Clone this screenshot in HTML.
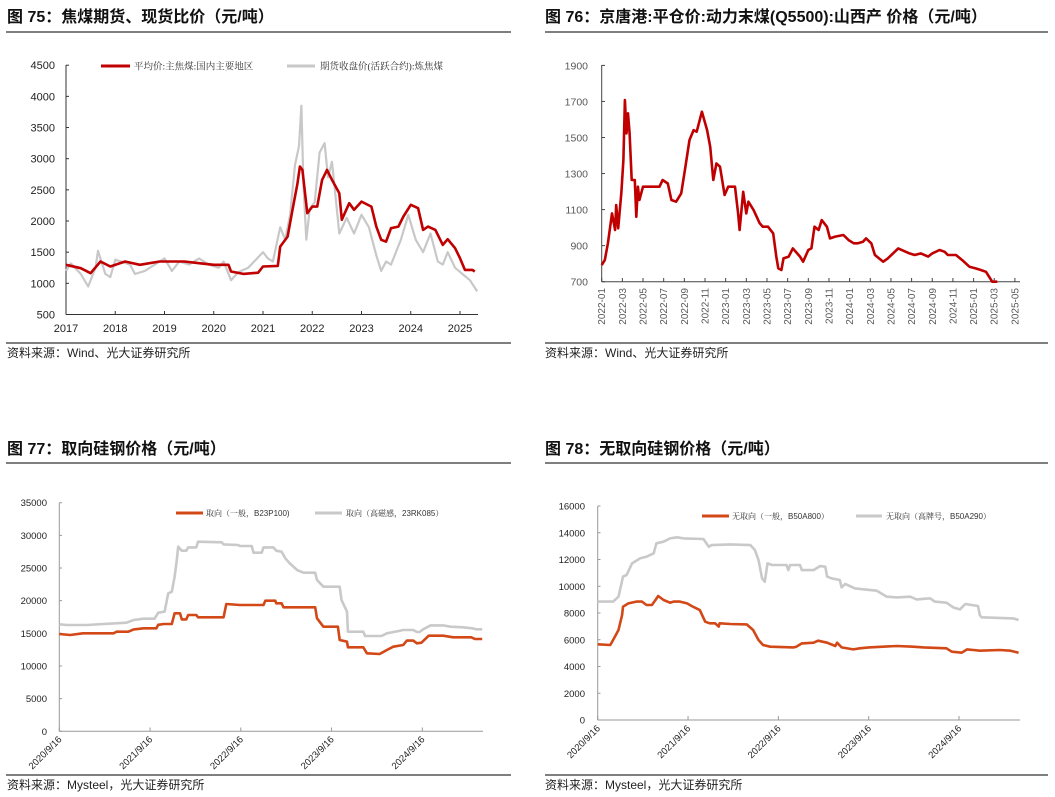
<!DOCTYPE html>
<html><head><meta charset="utf-8"><style>
body{margin:0;width:1055px;height:797px;background:#fff;overflow:hidden;font-family:"Liberation Sans","Noto Sans CJK SC",sans-serif}
svg{position:absolute;left:0;top:0}
</style></head><body>
<svg id="s" width="1055" height="797" xmlns="http://www.w3.org/2000/svg">
<g font-family="Liberation Sans, Noto Sans CJK SC, sans-serif" font-weight="bold" font-size="16" fill="#111">
<text x="7" y="22">图 75：焦煤期货、现货比价（元/吨）</text>
<text x="545" y="22">图 76：京唐港:平仓价:动力末煤(Q5500):山西产 价格（元/吨）</text>
<text x="7" y="454">图 77：取向硅钢价格（元/吨）</text>
<text x="545" y="454">图 78：无取向硅钢价格（元/吨）</text>
</g>
<g stroke="#333" stroke-width="1.3">
<line x1="6" y1="32" x2="511" y2="32"/>
<line x1="545" y1="32" x2="1048" y2="32"/>
<line x1="6" y1="343" x2="511" y2="343"/>
<line x1="545" y1="343" x2="1048" y2="343"/>
<line x1="6" y1="463" x2="511" y2="463"/>
<line x1="545" y1="463" x2="1048" y2="463"/>
<line x1="6" y1="775" x2="511" y2="775"/>
<line x1="545" y1="775" x2="1048" y2="775"/>
</g>
<g font-size="12" fill="#222">
<text x="7" y="357">资料来源：Wind、光大证券研究所</text>
<text x="545" y="357">资料来源：Wind、光大证券研究所</text>
<text x="7" y="789">资料来源：Mysteel，光大证券研究所</text>
<text x="545" y="789">资料来源：Mysteel，光大证券研究所</text>
</g>
<g font-size="9.5" font-family="Liberation Serif, Noto Serif CJK SC, serif" fill="#333">
<line x1="101" y1="66" x2="130" y2="66" stroke="#C00000" stroke-width="3"/>
<text x="134" y="69.5">平均价:主焦煤:国内主要地区</text>
<line x1="287" y1="66" x2="315" y2="66" stroke="#C8C8C8" stroke-width="3"/>
<text x="320" y="69.5">期货收盘价(活跃合约):炼焦煤</text>
</g>
<g font-size="8" font-family="Liberation Sans, Noto Serif CJK SC, sans-serif" fill="#333">
<line x1="176" y1="513" x2="203" y2="513" stroke="#D34817" stroke-width="3"/>
<text x="206" y="516">取向（一般，B23P100)</text>
<line x1="315" y1="513" x2="342" y2="513" stroke="#C9C9C9" stroke-width="3"/>
<text x="346" y="516">取向（高磁感，23RK085）</text>
<line x1="702" y1="516" x2="729" y2="516" stroke="#D34817" stroke-width="3"/>
<text x="732" y="519">无取向（一般，B50A800）</text>
<line x1="856" y1="516" x2="882" y2="516" stroke="#C9C9C9" stroke-width="3"/>
<text x="886" y="519">无取向（高牌号，B50A290）</text>
</g>
</svg>
<script>
// ---- Chart 75 data ----
const c1RedT=[2017.0,2017.3,2017.5,2017.7,2017.9,2018.2,2018.5,2018.9,2019.4,2019.7,2020.0,2020.3,2020.35,2020.6,2020.9,2021.0,2021.3,2021.35,2021.5,2021.6,2021.7,2021.75,2021.8,2021.9,2022.0,2022.1,2022.2,2022.3,2022.4,2022.55,2022.6,2022.75,2022.85,2023.0,2023.2,2023.3,2023.4,2023.5,2023.6,2023.75,2023.85,2024.0,2024.15,2024.25,2024.35,2024.5,2024.65,2024.75,2024.9,2025.0,2025.1,2025.25,2025.3];
const c1RedV=[1297,1243,1163,1350,1270,1350,1297,1350,1350,1323,1297,1297,1190,1152,1170,1270,1280,1590,1750,2180,2607,2874,2820,2125,2232,2232,2660,2820,2660,2446,2019,2286,2180,2312,2232,1911,1698,1670,1885,1911,2072,2260,2206,1858,1911,1858,1617,1708,1563,1403,1216,1216,1190];
const c1GreyT=[2017.0,2017.1,2017.3,2017.45,2017.6,2017.65,2017.8,2017.9,2018.0,2018.3,2018.4,2018.6,2018.9,2019.0,2019.15,2019.3,2019.5,2019.7,2019.9,2020.1,2020.2,2020.35,2020.5,2020.7,2021.0,2021.1,2021.2,2021.35,2021.45,2021.55,2021.65,2021.73,2021.78,2021.82,2021.88,2021.95,2022.05,2022.15,2022.25,2022.32,2022.4,2022.55,2022.7,2022.85,2023.0,2023.15,2023.3,2023.4,2023.5,2023.6,2023.8,2023.95,2024.1,2024.25,2024.4,2024.55,2024.65,2024.75,2024.9,2025.05,2025.2,2025.35];
const c1GreyV=[1200,1320,1150,950,1250,1520,1150,1100,1380,1300,1150,1200,1350,1400,1200,1350,1300,1400,1300,1250,1350,1050,1180,1250,1500,1400,1350,1900,1700,2100,2900,3200,3850,2600,1700,2200,2300,3100,3250,2700,2950,1800,2050,1800,2100,1900,1450,1200,1350,1300,1700,2100,1700,1500,1800,1350,1300,1500,1250,1150,1050,870];
const c1YTicks=[500,1000,1500,2000,2500,3000,3500,4000,4500];
const c1XTicks=[2017,2018,2019,2020,2021,2022,2023,2024,2025];
// ---- Chart 76 data (month index from 2022-01) ----
const c2M=[0,0.3,0.6,1.0,1.3,1.4,1.6,1.9,2.1,2.25,2.4,2.55,2.7,2.9,3.2,3.35,3.5,3.65,4.0,5.6,5.9,6.4,6.75,7.2,7.7,8.05,8.5,8.9,9.2,9.7,10.2,10.5,10.8,11.1,11.45,11.9,12.25,12.9,13.2,13.35,13.7,14.0,14.2,14.7,15.3,15.6,16.1,16.6,16.9,17.1,17.4,17.6,18.1,18.5,19.2,19.5,20.0,20.3,20.6,21.0,21.3,21.8,22.1,22.6,23.4,23.9,24.4,24.8,25.3,25.6,26.1,26.45,27.25,27.7,28.2,28.7,29.8,30.3,30.9,31.6,32.0,32.7,33.2,33.5,34.3,34.9,35.6,36.2,36.7,37.2,37.8,38.3];
const c2V=[792,820,913,1079,987,1125,996,1190,1375,1708,1523,1634,1523,1264,1264,1060,1227,1153,1227,1227,1264,1245,1153,1144,1190,1319,1486,1541,1532,1643,1541,1449,1264,1356,1338,1181,1227,1227,1079,987,1199,1079,1144,1097,1024,1005,1005,968,839,774,765,829,839,885,839,811,876,885,1005,987,1042,1005,940,950,959,931,913,913,922,940,913,848,811,829,857,885,857,848,857,839,857,876,866,848,848,820,783,774,765,755,700,700];
const c2YTicks=[700,900,1100,1300,1500,1700,1900];
const c2XLabels=["2022-01","2022-03","2022-05","2022-07","2022-09","2022-11","2023-01","2023-03","2023-05","2023-07","2023-09","2023-11","2024-01","2024-03","2024-05","2024-07","2024-09","2024-11","2025-01","2025-03","2025-05"];
// ---- Chart 77 data ----
const c3RedT=[2020.71,2020.83,2020.97,2021.31,2021.34,2021.47,2021.53,2021.64,2021.78,2021.80,2021.86,2021.95,2021.98,2022.04,2022.06,2022.11,2022.13,2022.22,2022.24,2022.52,2022.55,2022.70,2022.96,2022.98,2023.09,2023.10,2023.16,2023.18,2023.53,2023.55,2023.62,2023.78,2023.80,2023.88,2023.89,2024.06,2024.10,2024.24,2024.32,2024.39,2024.50,2024.54,2024.61,2024.65,2024.70,2024.78,2024.94,2025.05,2025.25,2025.29,2025.37];
const c3RedV=[14900,14750,15000,15000,15250,15250,15600,15770,15770,16300,16430,16430,18060,18060,17140,17140,17800,17800,17450,17450,19490,19340,19340,20000,20000,19600,19600,18980,18980,17300,16020,16020,13980,13720,12860,12860,11940,11840,12450,12960,13210,13880,13880,13470,13570,14640,14640,14390,14390,14130,14130];
const c3GreyT=[2020.71,2020.79,2021.01,2021.45,2021.53,2021.64,2021.76,2021.80,2021.87,2021.91,2021.95,2021.98,2022.00,2022.02,2022.06,2022.11,2022.13,2022.22,2022.24,2022.50,2022.52,2022.68,2022.70,2022.83,2022.85,2022.94,2022.96,2023.07,2023.10,2023.16,2023.20,2023.25,2023.33,2023.40,2023.53,2023.55,2023.62,2023.80,2023.82,2023.88,2023.89,2024.06,2024.08,2024.26,2024.32,2024.45,2024.50,2024.61,2024.65,2024.68,2024.72,2024.80,2024.94,2025.02,2025.16,2025.27,2025.30,2025.37];
const c3GreyV=[16380,16280,16280,16630,17040,17240,17240,18160,18320,21120,21380,23670,25710,28270,27650,27650,28160,28160,29030,28930,28620,28520,28370,28370,27350,27350,28160,28160,27650,27500,26480,25710,24690,24290,24290,23160,22140,22140,20100,18320,15250,15250,14590,14590,15000,15360,15510,15510,15200,15200,15610,16220,16220,16020,15920,15760,15610,15610];
const c3YTicks=[0,5000,10000,15000,20000,25000,30000,35000];
const c3XLabels=["2020/9/16","2021/9/16","2022/9/16","2023/9/16","2024/9/16"];
// ---- Chart 78 data ----
const c4RedT=[2020.71,2020.85,2020.88,2020.94,2020.98,2020.99,2021.05,2021.14,2021.20,2021.25,2021.31,2021.35,2021.38,2021.44,2021.51,2021.55,2021.62,2021.70,2021.75,2021.84,2021.90,2021.95,2022.01,2022.05,2022.06,2022.18,2022.36,2022.43,2022.49,2022.54,2022.62,2022.88,2022.91,2022.97,2023.10,2023.15,2023.25,2023.34,2023.36,2023.41,2023.54,2023.61,2023.71,2024.02,2024.20,2024.32,2024.57,2024.63,2024.74,2024.80,2024.87,2024.94,2025.16,2025.28,2025.37];
const c4RedV=[5660,5610,5980,6730,7850,8470,8720,8850,8850,8600,8600,8970,9270,8970,8770,8850,8850,8720,8520,8220,7350,7230,7230,6980,7230,7180,7150,6730,5980,5610,5480,5430,5480,5730,5780,5930,5780,5530,5780,5430,5280,5360,5430,5530,5480,5430,5360,5110,5030,5280,5230,5180,5230,5180,5030];
const c4GreyT=[2020.71,2020.88,2020.94,2020.99,2021.03,2021.09,2021.18,2021.25,2021.33,2021.36,2021.44,2021.51,2021.59,2021.66,2021.88,2021.94,2021.97,2022.18,2022.40,2022.45,2022.49,2022.53,2022.56,2022.59,2022.64,2022.80,2022.82,2022.84,2022.95,2022.97,2023.10,2023.17,2023.23,2023.25,2023.30,2023.39,2023.41,2023.45,2023.56,2023.65,2023.80,2023.91,2024.02,2024.17,2024.24,2024.39,2024.44,2024.57,2024.65,2024.72,2024.78,2024.92,2024.94,2024.96,2025.31,2025.37];
const c4GreyV=[8850,8850,9220,10720,10840,11710,12090,12210,12460,13210,13330,13580,13660,13580,13530,12960,13080,13130,13080,12710,11960,10590,10340,11710,11590,11590,11210,11590,11590,11210,11210,11510,11460,10720,10590,10470,9920,10170,9840,9770,9670,9220,9170,9220,9020,9100,8850,8770,8400,8270,8670,8520,7850,7680,7600,7480];
const c4YTicks=[0,2000,4000,6000,8000,10000,12000,14000,16000];
const c4XLabels=["2020/9/16","2021/9/16","2022/9/16","2023/9/16","2024/9/16"];

const NS="http://www.w3.org/2000/svg";
const svg=document.getElementById('s');
function mk(tag,attrs,parent){const e=document.createElementNS(NS,tag);for(const k in attrs)e.setAttribute(k,attrs[k]);(parent||svg).appendChild(e);return e;}
function poly(xs,ys,fx,fy,color,w){const pts=xs.map((t,i)=>fx(t).toFixed(1)+","+fy(ys[i]).toFixed(1)).join(" ");return mk('polyline',{points:pts,fill:'none',stroke:color,'stroke-width':w,'stroke-linejoin':'round'});}
function axisLines(x0,x1,y0,y1,color){const a=mk('line',{x1:x0,y1:y1,x2:x0,y2:y0,stroke:color,'stroke-width':1});


const b=mk('line',{x1:x0,y1:y0,x2:x1,y2:y0,stroke:color,'stroke-width':1});

}

// Chart 75
const X1=t=>66+(t-2017)*49.25, Y1=v=>314.5-(v-500)/4000*249.3;
axisLines(66,478,314.5,65,'#333');
c1YTicks.forEach(v=>{const t=mk('text',{x:55,y:Y1(v)+4,'text-anchor':'end','font-size':11,fill:'#222'});t.textContent=v;


mk('line',{x1:66,x2:69,y1:Y1(v),y2:Y1(v),stroke:'#333'});});
c1XTicks.forEach(v=>{const t=mk('text',{x:X1(v),y:332,'text-anchor':'middle','font-size':11,fill:'#222'});t.textContent=v;


mk('line',{x1:X1(v),x2:X1(v),y1:314.5,y2:311,stroke:'#333'});});
let p=poly(c1GreyT,c1GreyV,X1,Y1,'#C8C8C8',2.2);


p=poly(c1RedT,c1RedV,X1,Y1,'#C00000',2.6);



// Chart 76
const X2=m=>601.7+m*10.33, Y2=v=>281.7-(v-700)/1200*216.3;
axisLines(601.7,1020,281.7,65,'#444');
c2YTicks.forEach(v=>{const t=mk('text',{x:588,y:Y2(v)+4,'text-anchor':'end','font-size':10.5,fill:'#595959'});t.textContent=v;


mk('line',{x1:601.7,x2:605,y1:Y2(v),y2:Y2(v),stroke:'#444'});});
c2XLabels.forEach((s,i)=>{const x=X2(i*2);const t=mk('text',{x:0,y:0,'text-anchor':'end','font-size':10,fill:'#595959',transform:`translate(${x+3.5},288) rotate(-90)`});t.textContent=s;


mk('line',{x1:x,x2:x,y1:281.7,y2:278,stroke:'#444'});});
p=poly(c2M,c2V,X2,Y2,'#C00000',2.6);



// Chart 77
const X3=t=>59.3+(t-2020.71)*90.75, Y3=v=>731.3-v/35000*228.6;
axisLines(59.3,483,731.3,502.7,'#999');
c3YTicks.forEach(v=>{const t=mk('text',{x:47,y:Y3(v)+3.5,'text-anchor':'end','font-size':9.5,fill:'#222'});t.textContent=v;


mk('line',{x1:59.3,x2:62,y1:Y3(v),y2:Y3(v),stroke:'#999'});});
c3XLabels.forEach((s,i)=>{const x=X3(2020.71+i);const t=mk('text',{x:0,y:0,'text-anchor':'end','font-size':9.5,fill:'#222',transform:`translate(${x+3},740) rotate(-45)`});t.textContent=s;


mk('line',{x1:x,x2:x,y1:731.3,y2:727.5,stroke:'#999'});});
p=poly(c3GreyT,c3GreyV,X3,Y3,'#C9C9C9',2.6);


p=poly(c3RedT,c3RedV,X3,Y3,'#D34817',2.6);



// Chart 78
const X4=t=>597.7+(t-2020.71)*90.33, Y4=v=>720-v/16000*214;
axisLines(597.7,1020,720,506,'#999');
c4YTicks.forEach(v=>{const t=mk('text',{x:585,y:Y4(v)+3.5,'text-anchor':'end','font-size':9.5,fill:'#222'});t.textContent=v;


mk('line',{x1:597.7,x2:600.5,y1:Y4(v),y2:Y4(v),stroke:'#999'});});
c4XLabels.forEach((s,i)=>{const x=X4(2020.71+i);const t=mk('text',{x:0,y:0,'text-anchor':'end','font-size':9.5,fill:'#222',transform:`translate(${x+3},729) rotate(-45)`});t.textContent=s;


mk('line',{x1:x,x2:x,y1:720,y2:716,stroke:'#999'});});
p=poly(c4GreyT,c4GreyV,X4,Y4,'#C9C9C9',2.6);


p=poly(c4RedT,c4RedV,X4,Y4,'#D34817',2.6);


</script>
</body></html>
